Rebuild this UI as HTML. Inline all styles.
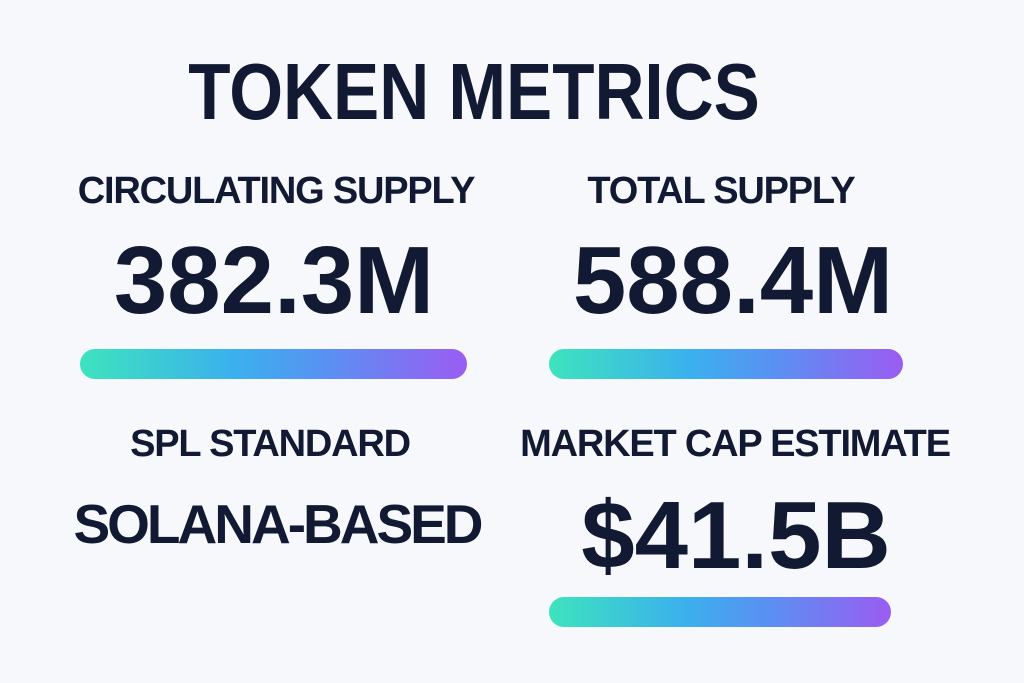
<!DOCTYPE html>
<html><head><meta charset="utf-8"><style>
html,body{margin:0;padding:0}
body{width:1024px;height:683px;background:#f6f8fb;position:relative;overflow:hidden;font-family:"Liberation Sans",sans-serif;color:#121a33}
.t{position:absolute;text-align:center;font-weight:700;white-space:nowrap;line-height:1}
.bar{position:absolute;height:30px;border-radius:15px;background:linear-gradient(90deg,#3de3bd 0%,#3bb0ee 40%,#5b8ff2 65%,#9b5cf2 100%)}
</style></head><body>
<div class="t" style="left:0;width:948px;top:52px;font-size:80px;transform:scaleX(0.865);transform-origin:474px 0">TOKEN METRICS</div>

<div class="t" style="left:76px;width:400px;top:172px;font-size:38px;letter-spacing:-1.2px;font-weight:600">CIRCULATING SUPPLY</div>
<div class="t" style="left:74px;width:400px;top:233px;font-size:96px">382.3M</div>
<div class="bar" style="left:80px;width:387px;top:349px"></div>

<div class="t" style="left:521px;width:400px;top:172px;font-size:38px;letter-spacing:-1.2px;font-weight:600">TOTAL SUPPLY</div>
<div class="t" style="left:533px;width:400px;top:233px;font-size:96px">588.4M</div>
<div class="bar" style="left:549px;width:354px;top:349px"></div>

<div class="t" style="left:70px;width:400px;top:425px;font-size:38px;letter-spacing:-1.2px;font-weight:600">SPL STANDARD</div>
<div class="t" style="left:27px;width:500px;top:497px;font-size:55px;letter-spacing:-3px;font-weight:600">SOLANA-BASED</div>

<div class="t" style="left:485px;width:500px;top:425px;font-size:38px;letter-spacing:-1.2px;font-weight:600">MARKET CAP ESTIMATE</div>
<div class="t" style="left:536px;width:400px;top:488px;font-size:96px">$41.5B</div>
<div class="bar" style="left:549px;width:342px;top:597px"></div>
</body></html>
